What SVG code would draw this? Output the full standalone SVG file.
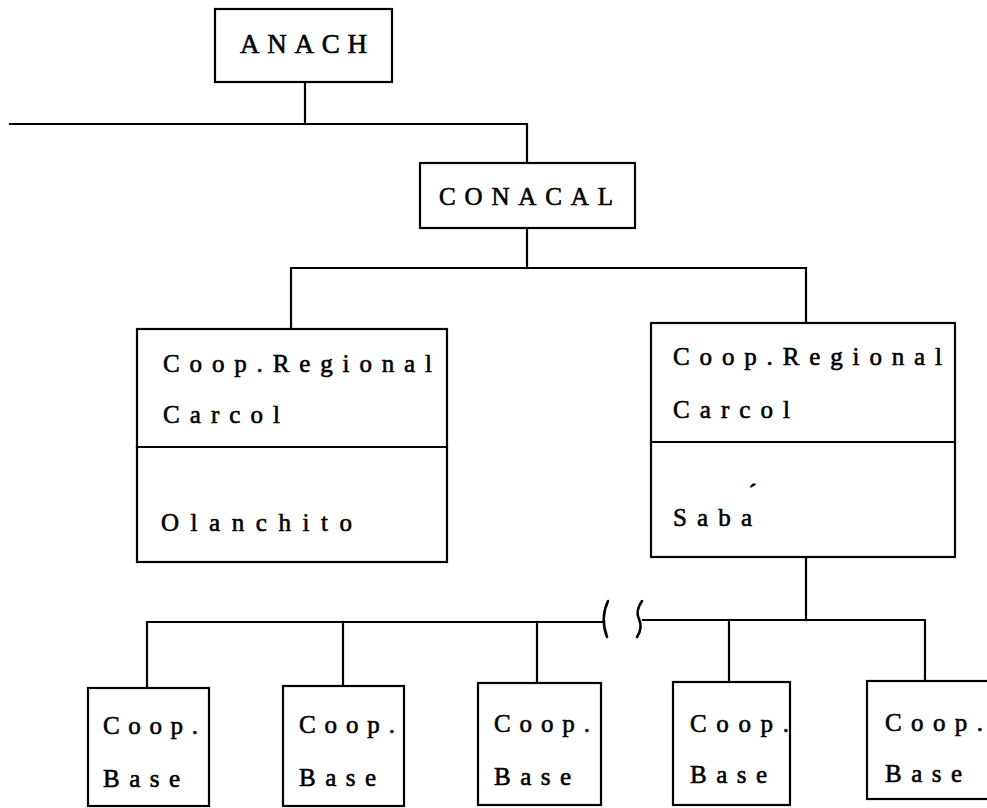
<svg xmlns="http://www.w3.org/2000/svg" width="987" height="808" viewBox="0 0 987 808">
  <style>
    .box { fill: #fff; stroke: #000; stroke-width: 2.2; }
    .ln { fill: none; stroke: #000; stroke-width: 2.2; stroke-linecap: square; }
    .brk { fill: none; stroke: #000; stroke-width: 2.6; stroke-linecap: round; }
    text { font-family: "Liberation Serif", "DejaVu Serif", serif; fill: #000; stroke: #000; stroke-width: 0.6; }
    .t { font-size: 25px; }
    .big { font-size: 27px; }
    .acc { font-size: 22px; stroke-width: 1.2; }
  </style>
  <rect width="987" height="808" fill="#fff"/>

  <!-- connectors -->
  <g id="connectors">
    <path class="ln" d="M305,82 V124"/>
    <path class="ln" d="M10,124 H527 V163"/>
    <path class="ln" d="M527,228 V268"/>
    <path class="ln" d="M291,329 V268 H806 V323"/>
    <path class="ln" d="M806,557 V620"/>
    <path class="ln" d="M147,688 V622 H603"/>
    <path class="ln" d="M643,620 H925 V681"/>
    <path class="ln" d="M343,622 V686"/>
    <path class="ln" d="M537,622 V683"/>
    <path class="ln" d="M729,620 V682"/>
    <!-- break marks in the base line -->
    <path class="brk" d="M608,601 Q600,618 607,637"/>
    <path class="brk" d="M642,601 Q635,611 639,619 Q643,628 637,637"/>
  </g>

  <g id="anach">
    <rect class="box" x="215" y="9" width="177" height="73"/>
    <text class="big" x="240" y="53" textLength="127" lengthAdjust="spacing">ANACH</text>
  </g>

  <g id="conacal">
    <rect class="box" x="420" y="163" width="215" height="65"/>
    <text class="t" x="439" y="205" textLength="174" lengthAdjust="spacing">CONACAL</text>
  </g>

  <g id="regional-olanchito">
    <rect class="box" x="137" y="329" width="310" height="233"/>
    <line class="ln" x1="137" y1="447" x2="447" y2="447"/>
    <text class="t" x="163" y="372" textLength="269" lengthAdjust="spacing">Coop.Regional</text>
    <text class="t" x="163" y="423" textLength="117" lengthAdjust="spacing">Carcol</text>
    <text class="t" x="161" y="531" textLength="191" lengthAdjust="spacing">Olanchito</text>
  </g>

  <g id="regional-saba">
    <rect class="box" x="651" y="323" width="304" height="234"/>
    <line class="ln" x1="651" y1="442" x2="955" y2="442"/>
    <text class="t" x="673" y="365" textLength="269" lengthAdjust="spacing">Coop.Regional</text>
    <text class="t" x="673" y="418" textLength="117" lengthAdjust="spacing">Carcol</text>
    <text class="t" x="673" y="526" textLength="79" lengthAdjust="spacing">Saba</text>
    <text class="acc" x="749" y="499">´</text>
  </g>

  <g id="base-1">
    <rect class="box" x="88" y="688" width="121" height="118"/>
    <text class="t" x="103" y="734" textLength="95" lengthAdjust="spacing">Coop.</text>
    <text class="t" x="103" y="787" textLength="77" lengthAdjust="spacing">Base</text>
  </g>

  <g id="base-2">
    <rect class="box" x="283" y="686" width="121" height="120"/>
    <text class="t" x="299" y="733" textLength="96" lengthAdjust="spacing">Coop.</text>
    <text class="t" x="299" y="786" textLength="77" lengthAdjust="spacing">Base</text>
  </g>

  <g id="base-3">
    <rect class="box" x="478" y="683" width="123" height="122"/>
    <text class="t" x="494" y="732" textLength="96" lengthAdjust="spacing">Coop.</text>
    <text class="t" x="494" y="785" textLength="77" lengthAdjust="spacing">Base</text>
  </g>

  <g id="base-4">
    <rect class="box" x="673" y="682" width="117" height="123"/>
    <text class="t" x="690" y="732" textLength="99" lengthAdjust="spacing">Coop.</text>
    <text class="t" x="690" y="783" textLength="77" lengthAdjust="spacing">Base</text>
  </g>

  <g id="base-5">
    <rect class="box" x="867" y="681" width="130" height="118"/>
    <text class="t" x="885" y="731" textLength="98" lengthAdjust="spacing">Coop.</text>
    <text class="t" x="885" y="782" textLength="77" lengthAdjust="spacing">Base</text>
  </g>
</svg>
